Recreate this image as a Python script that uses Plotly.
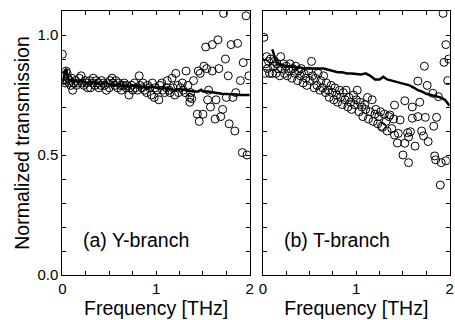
import plotly.graph_objects as go

# ---- data: panel (a) Y-branch ----
ya_freq = [0.00,0.01,0.02,0.03,0.04,0.05,0.06,0.07,0.08,0.09,0.10,0.11,0.12,0.14,0.15,0.17,0.18,0.20,0.21,0.23,
           0.24,0.26,0.27,0.29,0.30,0.32,0.33,0.35,0.36,0.38,0.39,0.41,0.42,0.44,0.45,0.47,0.48,0.50,0.51,0.53,
           0.54,0.56,0.57,0.59,0.60,0.62,0.63,0.65,0.66,0.68,0.69,0.71,0.72,0.74,0.75,0.77,0.78,0.80,0.82,0.83,
           0.85,0.86,0.88,0.90,0.91,0.93,0.95,0.96,0.98,0.99,1.01,1.03,1.04,1.06,1.07,1.09,1.11,1.12,1.14,1.15,
           1.17,1.18,1.20,1.21,1.23,1.24,1.26,1.28,1.29,1.31,1.32,1.34,1.36,1.37,1.38,1.36,1.40,1.44,1.45,1.46,
           1.47,1.50,1.51,1.53,1.54,1.55,1.56,1.58,1.60,1.60,1.63,1.64,1.66,1.67,1.69,1.71,1.72,1.74,1.75,1.77,
           1.78,1.80,1.82,1.84,1.85,1.87,1.90,1.92,1.93,1.96,1.97,1.99]
ya_meas = [0.92,0.81,0.83,0.80,0.85,0.84,0.82,0.80,0.81,0.79,0.82,0.77,0.80,0.81,0.79,0.80,0.82,0.83,0.80,0.79,
           0.81,0.80,0.78,0.81,0.78,0.80,0.82,0.79,0.81,0.80,0.78,0.79,0.81,0.80,0.79,0.77,0.80,0.78,0.81,0.82,
           0.80,0.79,0.81,0.78,0.80,0.79,0.77,0.79,0.80,0.78,0.79,0.75,0.78,0.79,0.77,0.80,0.78,0.77,0.83,0.79,
           0.78,0.80,0.77,0.76,0.79,0.78,0.75,0.80,0.74,0.78,0.77,0.73,0.79,0.80,0.77,0.76,0.78,0.81,0.77,0.76,
           0.82,0.78,0.75,0.84,0.79,0.76,0.78,0.80,0.77,0.76,0.85,0.79,0.74,0.76,0.735,0.72,0.81,0.67,0.85,0.64,
           0.84,0.67,0.87,0.95,0.86,0.73,0.77,0.70,0.96,0.85,0.65,0.73,0.98,0.86,0.66,0.69,1.09,0.90,0.74,0.83,
           0.63,0.96,0.74,0.60,0.76,0.965,0.81,0.51,0.885,1.08,0.50,0.83]
ya_sim_freq = [0.00,0.01,0.02,0.03,0.04,0.05,0.06,0.08,0.10,0.13,0.16,0.20,0.25,0.30,0.35,0.40,0.45,0.50,0.55,0.60,
               0.65,0.70,0.75,0.80,0.85,0.90,0.95,1.00,1.05,1.10,1.15,1.20,1.25,1.30,1.35,1.40,1.45,1.48,1.50,1.55,
               1.60,1.65,1.70,1.75,1.80,1.85,1.90,1.95,2.00]
ya_sim = [0.80,0.82,0.84,0.85,0.86,0.84,0.82,0.81,0.815,0.81,0.805,0.81,0.80,0.805,0.80,0.795,0.80,0.795,0.79,0.795,
          0.79,0.785,0.79,0.785,0.785,0.78,0.785,0.78,0.775,0.78,0.775,0.77,0.775,0.77,0.768,0.765,0.765,0.772,0.765,0.765,
          0.76,0.758,0.755,0.755,0.752,0.752,0.75,0.75,0.75]

# ---- data: panel (b) T-branch ----
tb_freq = [0.01,0.02,0.03,0.04,0.05,0.06,0.07,0.08,0.10,0.11,0.12,0.14,0.15,0.16,0.18,0.19,0.20,0.22,0.23,0.25,
           0.26,0.28,0.29,0.31,0.32,0.34,0.35,0.37,0.38,0.40,0.41,0.43,0.44,0.46,0.47,0.49,0.50,0.52,0.53,0.55,
           0.56,0.58,0.59,0.61,0.62,0.64,0.65,0.67,0.68,0.70,0.71,0.73,0.74,0.76,0.77,0.79,0.80,0.82,0.83,0.85,
           0.86,0.88,0.89,0.91,0.92,0.94,0.95,0.97,0.98,1.00,1.01,1.03,1.04,1.06,1.07,1.09,1.10,1.12,1.13,1.15,
           1.17,1.18,1.20,1.21,1.23,1.24,1.26,1.27,1.28,1.30,1.32,1.33,1.35,1.36,1.38,1.40,1.41,1.41,1.44,1.45,
           1.47,1.50,1.52,1.52,1.55,1.56,1.56,1.58,1.60,1.60,1.63,1.66,1.66,1.68,1.70,1.72,1.73,1.74,1.76,1.77,
           1.82,1.83,1.84,1.85,1.86,1.88,1.90,1.91,1.93,1.94,1.96,1.96,1.98,1.99]
tb_meas = [0.99,0.84,0.88,0.91,0.86,0.89,0.84,0.90,0.84,0.87,0.89,0.84,0.88,0.86,0.83,0.91,0.86,0.88,0.84,0.87,
           0.83,0.85,0.88,0.82,0.86,0.84,0.87,0.81,0.85,0.83,0.86,0.80,0.84,0.82,0.79,0.85,0.81,0.89,0.83,0.78,
           0.82,0.79,0.84,0.77,0.81,0.78,0.83,0.76,0.80,0.77,0.74,0.79,0.76,0.73,0.78,0.75,0.72,0.77,0.74,0.71,
           0.76,0.73,0.77,0.70,0.74,0.72,0.69,0.75,0.71,0.73,0.77,0.68,0.72,0.70,0.66,0.71,0.69,0.74,0.65,0.68,
           0.73,0.64,0.67,0.69,0.63,0.66,0.68,0.62,0.615,0.67,0.64,0.60,0.66,0.667,0.61,0.65,0.583,0.708,0.55,0.59,
           0.646,0.50,0.726,0.549,0.593,0.575,0.468,0.597,0.70,0.653,0.537,0.66,0.808,0.72,0.60,0.58,0.87,0.657,0.79,0.556,
           0.757,0.62,0.496,0.48,0.657,0.743,0.375,0.468,1.09,0.886,0.96,0.476,0.81,0.90]
tb_sim_freq = [0.10,0.12,0.14,0.17,0.20,0.25,0.30,0.35,0.40,0.45,0.50,0.55,0.60,0.65,0.70,0.75,0.80,0.85,0.90,0.95,
               1.00,1.05,1.10,1.15,1.20,1.25,1.29,1.33,1.38,1.43,1.48,1.52,1.57,1.62,1.66,1.70,1.75,1.80,1.85,1.90,
               1.95,2.00]
tb_sim = [0.94,0.91,0.89,0.88,0.875,0.87,0.87,0.865,0.865,0.86,0.86,0.86,0.86,0.86,0.855,0.85,0.845,0.845,0.84,0.84,
          0.838,0.835,0.84,0.83,0.815,0.815,0.826,0.815,0.81,0.805,0.80,0.795,0.79,0.78,0.77,0.765,0.755,0.75,0.745,0.74,
          0.73,0.705]

x_tickvals = [0, 0.25, 0.5, 0.75, 1, 1.25, 1.5, 1.75, 2]
x_ticktext = ["0", "", "", "", "1", "", "", "", "2"]
y_tickvals = [0, 0.1, 0.2, 0.3, 0.4, 0.5, 0.6, 0.7, 0.8, 0.9, 1.0, 1.1]
y_ticktext = ["0.0", "", "", "", "", "0.5", "", "", "", "", "1.0", ""]

FONT = "Liberation Sans, Arial, sans-serif"
TITLE_SIZE = 19.5
marker = dict(symbol="circle-open", size=8, color="black", line=dict(width=1, color="black"))

fig = go.Figure()
fig.add_trace(go.Scatter(x=ya_freq, y=ya_meas, mode="markers", marker=marker, xaxis="x", yaxis="y", showlegend=False))
fig.add_trace(go.Scatter(x=ya_sim_freq, y=ya_sim, mode="lines", line=dict(color="black", width=2.5), xaxis="x", yaxis="y", showlegend=False))
fig.add_trace(go.Scatter(x=tb_freq, y=tb_meas, mode="markers", marker=marker, xaxis="x2", yaxis="y2", showlegend=False))
fig.add_trace(go.Scatter(x=tb_sim_freq, y=tb_sim, mode="lines", line=dict(color="black", width=2.5), xaxis="x2", yaxis="y2", showlegend=False))

axcommon = dict(showgrid=False, zeroline=False, showline=True, linecolor="black", linewidth=1,
                mirror="allticks", ticks="inside", ticklen=4, tickcolor="black", tickwidth=1,
                tickfont=dict(family=FONT, size=15, color="black"))

fig.update_layout(
    width=455, height=320,
    margin=dict(l=62, r=1, t=11, b=45),
    plot_bgcolor="white", paper_bgcolor="white",
    font=dict(family=FONT, color="black"),
    xaxis=dict(domain=[0.001, 0.484], range=[0, 2], tickmode="array", tickvals=x_tickvals, ticktext=x_ticktext,
               title=dict(text="Frequency [THz]", font=dict(family=FONT, size=TITLE_SIZE), standoff=0), anchor="y", **axcommon),
    yaxis=dict(domain=[0, 1], range=[0, 1.1], tickmode="array", tickvals=y_tickvals, ticktext=y_ticktext,
               title=dict(text="Normalized transmission", font=dict(family=FONT, size=TITLE_SIZE), standoff=2), anchor="x", **axcommon),
    xaxis2=dict(domain=[0.518, 0.999], range=[0, 2], tickmode="array", tickvals=x_tickvals, ticktext=x_ticktext,
                title=dict(text="Frequency [THz]", font=dict(family=FONT, size=TITLE_SIZE), standoff=0), anchor="y2", **axcommon),
    yaxis2=dict(domain=[0, 1], range=[0, 1.1], tickmode="array", tickvals=y_tickvals, ticktext=y_ticktext,
                showticklabels=False, anchor="x2", **axcommon),
    annotations=[
        dict(text="(a) Y-branch", x=0.79, y=0.146, xref="x", yref="y", showarrow=False,
             font=dict(family=FONT, size=TITLE_SIZE, color="black")),
        dict(text="(b) T-branch", x=0.79, y=0.146, xref="x2", yref="y2", showarrow=False,
             font=dict(family=FONT, size=TITLE_SIZE, color="black")),
    ],
)

fig.write_html("out.html")
